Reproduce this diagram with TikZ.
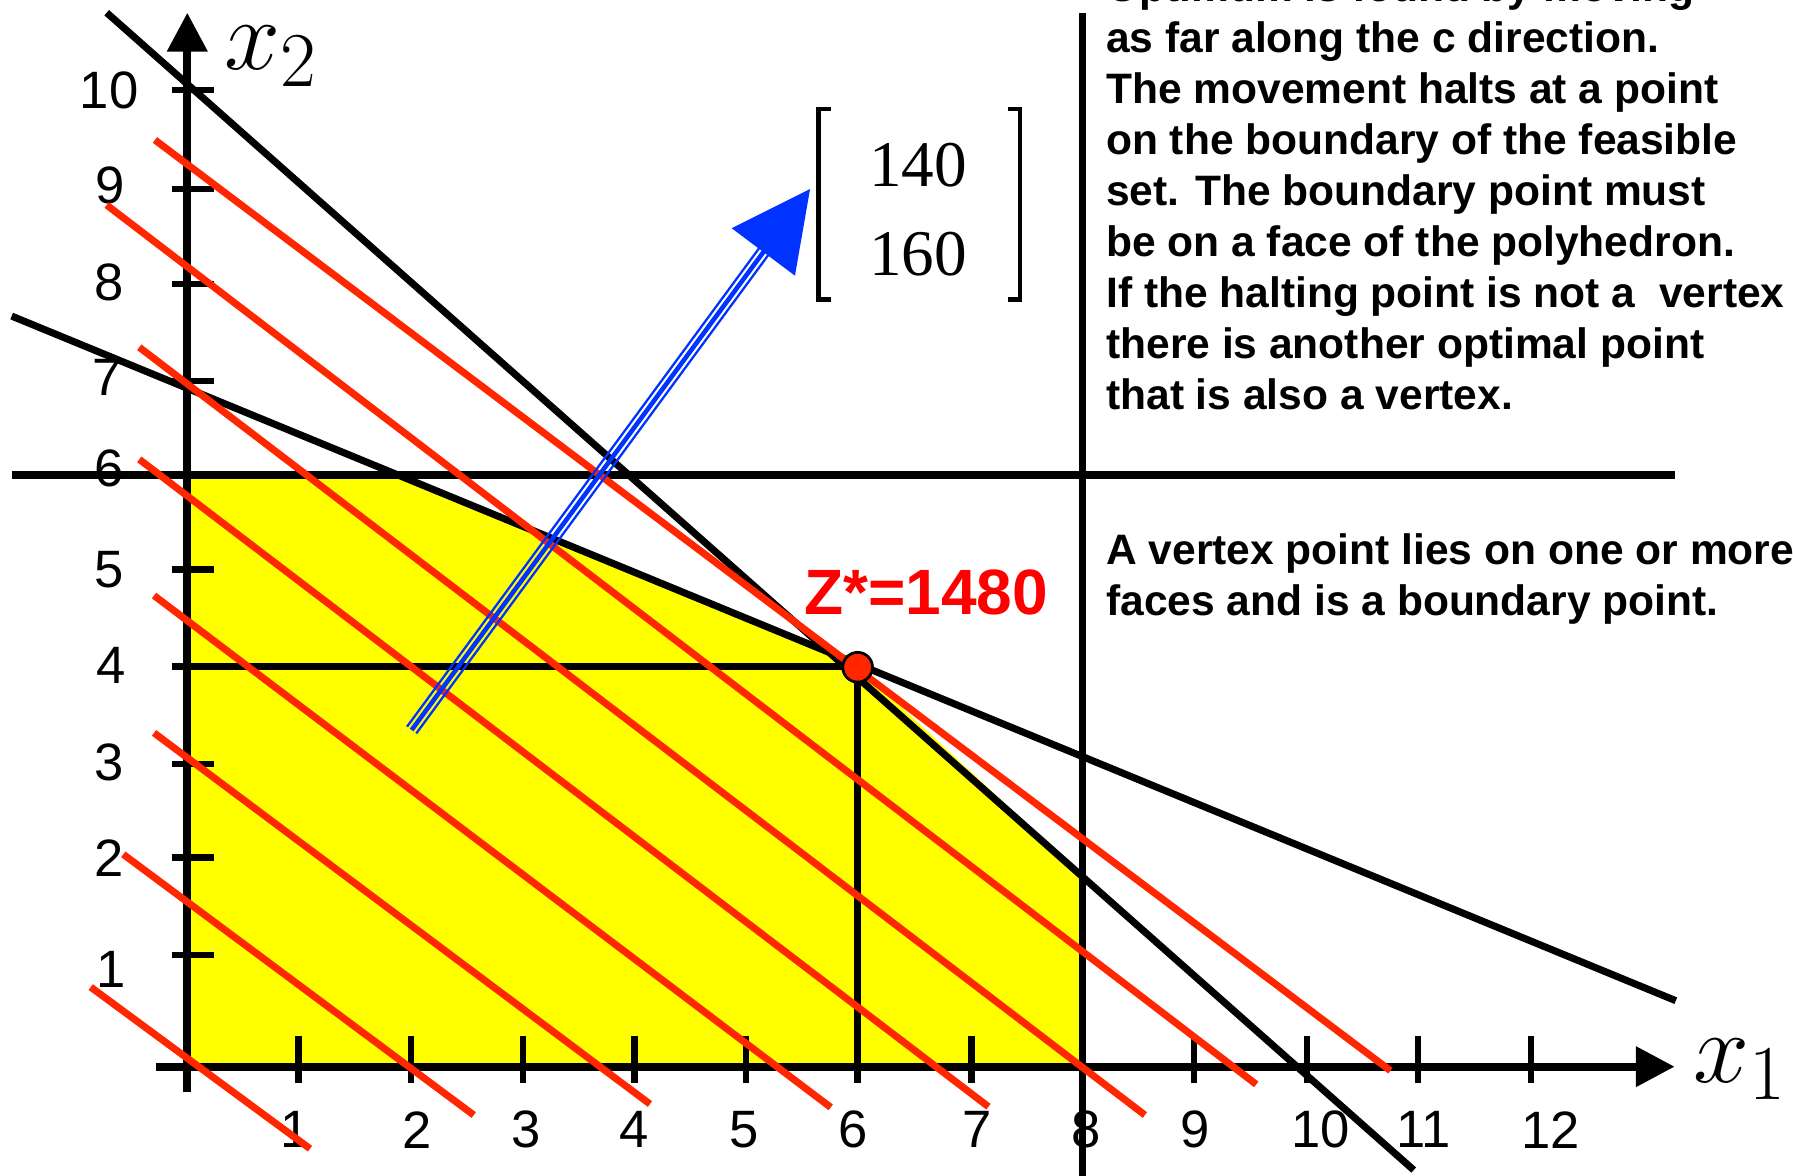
\documentclass[tikz,border=0pt]{standalone}
\usepackage{fontspec}
\newfontfamily\arial{Liberation Sans}
\newfontfamily\tnr{Liberation Serif}
\usetikzlibrary{arrows.meta,calc}
\definecolor{rl}{RGB}{255,38,0}
\definecolor{yl}{RGB}{255,255,0}
\definecolor{bl}{RGB}{0,51,255}
\definecolor{zr}{RGB}{255,0,0}
\begin{document}
\begin{tikzpicture}[x=0.5pt,y=-0.5pt,
  blk/.style={line width=3.1pt,black},
  redl/.style={line width=3.1pt,rl},
  axisline/.style={line width=3.4pt,-{Triangle[length=17pt,width=17pt]}},
  tck/.style={line width=2.8pt},
  tlab/.style={font=\arial\fontsize{23pt}{26pt}\selectfont, inner sep=0pt},
  body/.style={font=\arial\bfseries\fontsize{18.6pt}{21.75pt}\selectfont, inner sep=0pt, anchor=base west},
  axlab/.style={font=\fontsize{24.88pt}{26pt}\selectfont, inner sep=0pt, anchor=base west, scale=1.768},
]
\useasboundingbox (0,0) rectangle (1568,1028.4);

% feasible region
\fill[yl] (163.8,932.8) -- (163.8,415.4) -- (350,415.4) -- (750,583) -- (947,766) -- (947,932.8) -- cycle;

% tick labels
\foreach \x/\lab in {258/1,364.7/2,460/3,554.5/4,650.8/5,746/6,854.6/7,950/8,1045/9,1155/10,1245/11,1355.8/12}
  \node[tlab] (xl\lab) at (\x,988) {\lab};
\foreach \xx/\y/\lab in {95.5/78.7/10,96.2/162.5/9,95.6/247/8,94/330/7,95/410/6,95/498/5,97/582/4,95/667/3,95/750/2,97/848/1}
  \node[tlab] (yl\lab) at (\xx,\y) {\lab};

% axes
\coordinate (xs) at (136,932.8);
\coordinate (xe) at (1464.5,932.8);
\coordinate (ys) at (163.8,955);
\coordinate (ye) at (163.8,11.1);
\draw[axisline] (xs) -- (xe);
\draw[axisline] (ys) -- (ye);
\foreach \x in {261,359.4,457.2,554.8,652.4,750,849.5,946,1044,1143,1240.2,1338.8}
  \draw[tck] (\x,906) -- (\x,947);
\foreach \y in {78.7,165.3,248.4,333.2,415.4,498,583,668,750,835}
  \draw[tck] (150,\y) -- (187,\y);

% constraint lines
\draw[blk] (93.3,11.1) -- (1236.3,1023.2);
\draw[blk] (10.2,276.4) -- (1465.5,875.1);
\draw[blk] (10.2,415.4) -- (1465,415.4);
\draw[blk] (163.8,583) -- (750,583) -- (750,932.8);
\draw[blk] (947,11) -- (947,1028.4);

% iso-profit lines
\draw[redl] (135.5,122.4) -- (1215.9,936.3);
\draw[redl] (93.3,179.3) -- (1098.6,948.3);
\draw[redl] (121.8,303.7) -- (1001.2,975.1);
\draw[redl] (121.8,401.7) -- (864.4,967.8);
\draw[redl] (134.7,520.8) -- (726.5,968.4);
\draw[redl] (134.7,640.9) -- (568.4,965.5);
\draw[redl] (107.8,747.1) -- (414.3,975.1);
\draw[redl] (79.3,863.2) -- (271.1,1004.5);

% objective direction arrow
\coordinate (bs) at (360,638.4);
\coordinate (bm) at (669,218.5);
\coordinate (bt) at (708.4,165.3);
\coordinate (bhl) at (639.9,199.6);
\coordinate (bhr) at (695.2,241.1);
\draw[bl,line width=2pt] (bs) -- (bm);
\draw[bl,line width=1pt] ($(bs)!2.5pt!90:(bm)$) -- ($(bm)!2.5pt!-90:(bs)$);
\draw[bl,line width=1pt] ($(bs)!2.5pt!-90:(bm)$) -- ($(bm)!2.5pt!90:(bs)$);
\fill[bl] (bt) -- (bhl) -- (bhr) -- cycle;

% vector c
\draw[line width=2pt] (726.7,95.5) -- (716,95.5) -- (716,261.8) -- (726.7,261.8);
\draw[line width=2pt] (881.5,95.5) -- (892,95.5) -- (892,261.8) -- (881.5,261.8);
\node[font=\tnr\fontsize{28.5pt}{30pt}\selectfont, inner sep=0pt, anchor=base] (c1) at (803,163.3) {140};
\node[font=\tnr\fontsize{28.5pt}{30pt}\selectfont, inner sep=0pt, anchor=base] (c2) at (803,240.5) {160};

% optimum
\node[circle, fill=rl, draw=black, line width=1.2pt, minimum size=13pt, inner sep=0pt] (opt) at (750,583.5) {};
\node[font=\arial\bfseries\fontsize{28pt}{30pt}\selectfont, text=zr, inner sep=0pt, anchor=base west] (zs) at (703,537) {Z*=1480};

% axis labels
\node[axlab] (x1lab) at (1480,947) {$x_{\mbox{\fontsize{19.2pt}{20pt}\selectfont 1}}$};
\node[axlab] (x2lab) at (196,61.2) {$x_{\mbox{\fontsize{19.2pt}{20pt}\selectfont 2}}$};

% explanations
\node[body] (t1) at (967,1.4) {Optimum is found by moving};
\node[body] (t2) at (967,46) {as far along the c direction.};
\node[body] (t3) at (967,90.6) {The movement halts at a point};
\node[body] (t4) at (967,135.2) {on the boundary of the feasible};
\node[body] (t5) at (967,179.8) {set. The boundary point must};
\node[body] (t6) at (967,224.4) {be on a face of the polyhedron.};
\node[body] (t7) at (967,269) {If the halting point is not a\ \ vertex};
\node[body] (t8) at (967,313.6) {there is another optimal point};
\node[body] (t9) at (967,358.2) {that is also a vertex.};
\node[body] (t10) at (967,494) {A vertex point lies on one or more};
\node[body] (t11) at (967,538) {faces and is a boundary point.};
\end{tikzpicture}
\end{document}
